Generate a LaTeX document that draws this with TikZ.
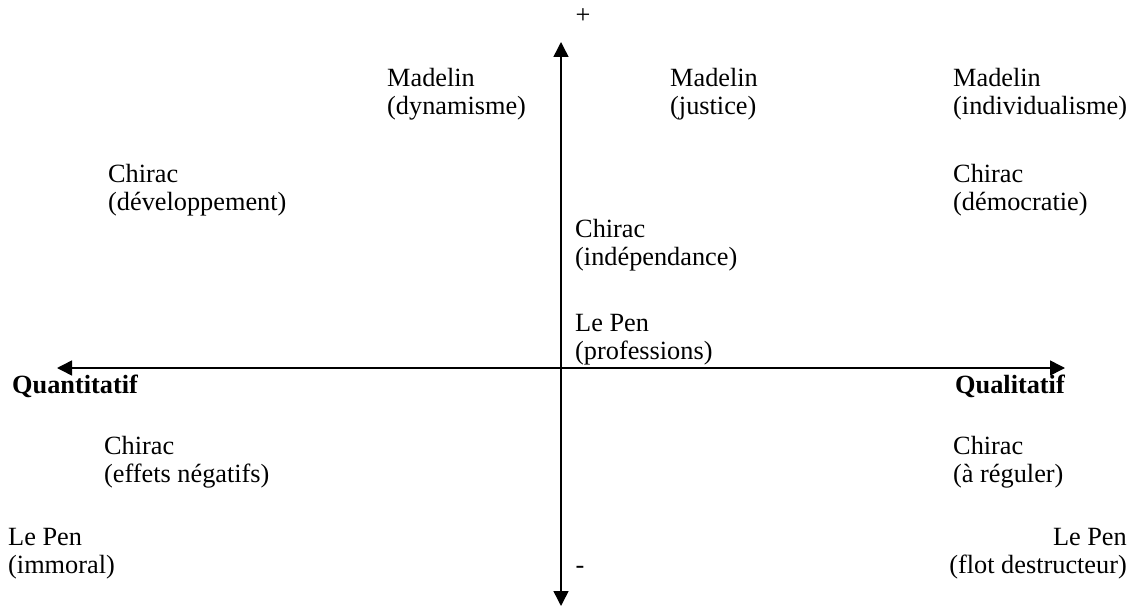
\documentclass[tikz,border=0pt]{standalone}
\usepackage{fontspec}
\setmainfont{Liberation Serif}
\usetikzlibrary{arrows.meta}
\begin{document}
\begin{tikzpicture}[x=1pt,y=-1pt,
  lbl/.style={anchor=base west,inner sep=0pt,align=left,font=\fontsize{26.3}{28}\selectfont},
  lblr/.style={anchor=base east,inner sep=0pt,align=right,font=\fontsize{26.3}{28}\selectfont},
  axislbl/.style={anchor=base west,inner sep=0pt,font=\fontsize{26.3}{28}\selectfont\bfseries},
  sign/.style={anchor=center,inner sep=0pt,font=\fontsize{26.3}{28}\selectfont},
  axis/.style={line width=1.5pt,-{Triangle[length=15pt,width=15pt]}}]
\useasboundingbox (0,0) rectangle (1137,607);
\coordinate (o) at (561,368);
\coordinate (top) at (561,42);
\coordinate (bot) at (561,606);
\coordinate (left) at (57,368);
\coordinate (right) at (1065,368);
\draw[axis] (o) -- (top);
\draw[axis] (o) -- (bot);
\draw[axis] (o) -- (left);
\draw[axis] (o) -- (right);
\node[sign] (plus) at (583,16) {+};
\node[sign] (minus) at (580,570) {-};
\node[lbl] (md) at (387,114) {Madelin\\(dynamisme)};
\node[lbl] (mj) at (670,114) {Madelin\\(justice)};
\node[lbl] (mi) at (953,114) {Madelin\\(individualisme)};
\node[lbl] (cdev) at (108,210) {Chirac\\(développement)};
\node[lbl] (cdem) at (953,210) {Chirac\\(démocratie)};
\node[lbl] (cind) at (575,265) {Chirac\\(indépendance)};
\node[lbl] (lpp) at (575,359) {Le Pen\\(professions)};
\node[axislbl] (quant) at (12,393) {Quantitatif};
\node[axislbl] (qual) at (955,393) {Qualitatif};
\node[lbl] (ceff) at (104,482) {Chirac\\(effets négatifs)};
\node[lbl] (creg) at (953,482) {Chirac\\(à réguler)};
\node[lbl] (lpi) at (8,573) {Le Pen\\(immoral)};
\node[lblr] (lpf) at (1127,573) {Le Pen\\(flot destructeur)};
\end{tikzpicture}
\end{document}
